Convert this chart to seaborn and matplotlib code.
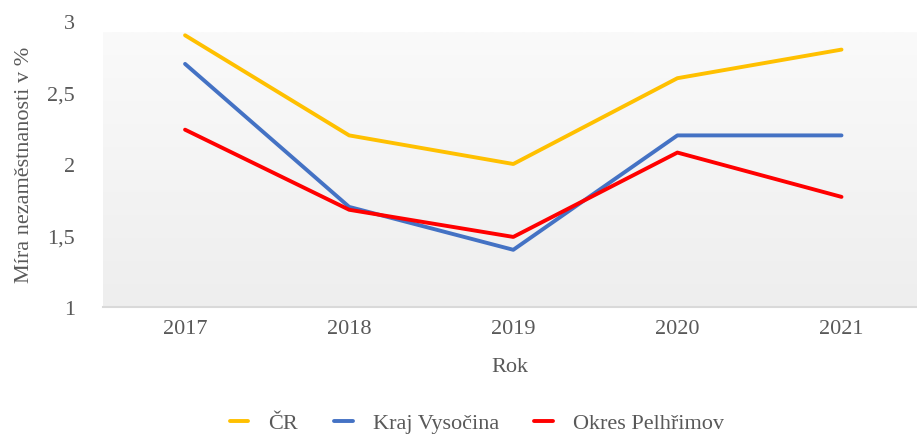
import numpy as np
import pandas as pd
import matplotlib
matplotlib.use("Agg")
import matplotlib.pyplot as plt
import seaborn as sns
from matplotlib.colors import LinearSegmentedColormap
from matplotlib.lines import Line2D

years = ["2017", "2018", "2019", "2020", "2021"]
cr = [2.9, 2.2, 2.0, 2.6, 2.8]
kraj = [2.7, 1.7, 1.4, 2.2, 2.2]
okres = [2.24, 1.68, 1.49, 2.08, 1.77]
series_names = ["ČR", "Kraj Vysočina", "Okres Pelhřimov"]
colors = ["#FFC000", "#4472C4", "#FF0000"]
yticks = [1, 1.5, 2, 2.5, 3]
ytick_labels = ["1", "1,5", "2", "2,5", "3"]

df = pd.DataFrame({
    "Rok": years * 3,
    "value": cr + kraj + okres,
    "series": [series_names[0]] * 5 + [series_names[1]] * 5 + [series_names[2]] * 5,
})

sns.set_theme(style="white")
plt.rcParams["font.family"] = ["Liberation Serif", "DejaVu Serif"]
txt = "#595959"

fig = plt.figure(figsize=(9.17, 4.35), dpi=100)
W, H = 917, 435
ax = fig.add_axes([103 / W, 1 - 308 / H, (917 - 103) / W, (308 - 22) / H])

grad = np.linspace(0, 1, 256).reshape(-1, 1)
cmap = LinearSegmentedColormap.from_list("bg", ["#eeeeee", "#fafafa"])
ax.imshow(grad, aspect="auto", cmap=cmap, origin="lower",
          extent=(-0.5, 4.46, 1, 2.92), zorder=0)

sns.lineplot(data=df, x="Rok", y="value", hue="series", palette=colors,
             linewidth=2.8, ax=ax, legend=False, zorder=3, sort=False)

ax.set_xlim(-0.5, 4.46)
ax.set_ylim(1, 3)
ax.set_yticks(yticks)
ax.set_yticklabels(ytick_labels)
ax.set_xticks(range(len(years)))
ax.set_xticklabels(years)
ax.tick_params(axis="both", length=0, labelsize=16, colors=txt)
ax.tick_params(axis="y", pad=20)
ax.tick_params(axis="x", pad=9)
for s in ["top", "right", "left"]:
    ax.spines[s].set_visible(False)
ax.spines["bottom"].set_color("#d9d9d9")
ax.spines["bottom"].set_linewidth(1.5)
ax.set_xlabel("Rok", fontsize=16, color=txt, labelpad=13)
ax.set_ylabel("Míra nezaměstnanosti v %", fontsize=16, color=txt)
ax.yaxis.set_label_coords((34 - 103) / 814, 0.5)

handles = [Line2D([0], [0], color=c, lw=2.8) for c in colors]
fig.legend(handles, series_names, loc="center", bbox_to_anchor=(477 / W, 1 - 424 / H),
           ncol=3, frameon=False, fontsize=16, handlelength=0.85, columnspacing=1.6,
           handletextpad=0.9, labelcolor=txt)

fig.savefig("out.png", dpi=100)
